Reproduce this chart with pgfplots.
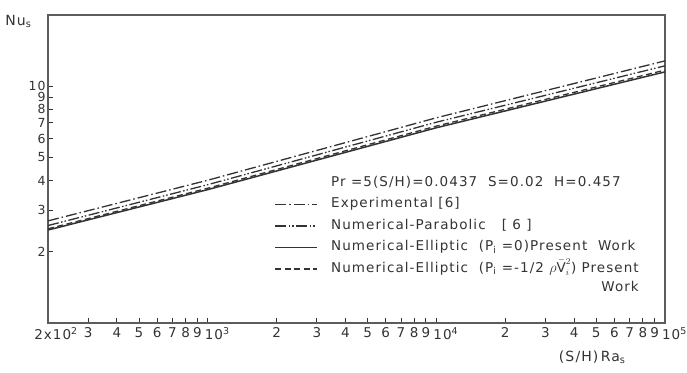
\documentclass[border=0pt]{standalone}
\usepackage{pgfplots}
\pgfplotsset{compat=1.18}
\usepackage{fontspec}
\setmainfont{DejaVu Sans}[LetterSpace=8]
\usetikzlibrary{calc}
\definecolor{ink}{gray}{0.2}
\newcommand{\dec}[1]{\makebox[0pt][l]{\hspace{-3pt}10\textsuperscript{#1}}}
\begin{document}
\begin{tikzpicture}
\begin{axis}[
  name=ax,
  scale only axis,
  width=617pt, height=308pt,
  xmode=log, ymode=log,
  xmin=200, xmax=100000,
  ymin=1, ymax=20,
  axis line style={ink!80, line width=1.4pt},
  tick style={ink, line width=0.9pt},
  major tick length=5pt,
  tick align=inside,
  tick pos=left,
  xminorticks=false, yminorticks=false,
  xtick={200,300,400,500,600,700,800,900,1000,2000,3000,4000,5000,6000,7000,8000,9000,10000,20000,30000,40000,50000,60000,70000,80000,90000,100000},
  xticklabels={\hspace{16pt}2x10\textsuperscript{2},3,4,5,6,7,8,9,\dec{3},2,3,4,5,6,7,8,9,\dec{4},2,3,4,5,6,7,8,9,\dec{5}},
  ytick={2,3,4,5,6,7,8,9,10},
  yticklabels={2,3,4,5,6,7,8,9,10},
  tick label style={font=\fontsize{13.5}{14}\selectfont, text=ink},
  yticklabel style={font=\fontsize{12.5}{13}\selectfont, xshift=1pt},
  xticklabel style={yshift=-1pt},
  every axis x label/.style={at={(rel axis cs:0.882,0)}, anchor=north, yshift=-24pt},
  every axis y label/.style={at={(rel axis cs:0,1)}, anchor=north east, xshift=-13pt, yshift=3pt},
  xlabel={(S/H)\,Ra\textsubscript{s}},
  ylabel={Nu\textsubscript{s}},
  label style={font=\fontsize{14}{15}\selectfont, text=ink},
  legend style={at={(rel axis cs:0.367,0.48)}, anchor=north west, draw=none, fill=none,
    font=\fontsize{13.5}{16}\selectfont, text=ink, inner sep=0pt, row sep=6pt, column sep=12pt,
    nodes={inner sep=1pt, text height=10pt, text depth=3.5pt}},
  legend cell align=left,
  legend image code/.code={\draw[#1] (0pt,0pt) -- (42pt,0pt);},
]
\addlegendimage{empty legend}
\addlegendentry{Pr =5(S/H)=0.0437\ \ S=0.02\ \ H=0.457}
\addplot[ink, line width=1.3pt, dash pattern=on 11pt off 3pt on 1.5pt off 3pt]
  coordinates {(200,2.70) (1000,4.01) (10000,7.36) (100000,12.8)};
\addlegendentry{Experimental [6]}
\addplot[ink, line width=1.3pt, dash pattern=on 11pt off 2.5pt on 1.5pt off 2pt on 1.5pt off 2.5pt]
  coordinates {(200,2.58) (1000,3.84) (10000,7.05) (100000,12.2)};
\addlegendentry{Numerical-Parabolic\ \ \ [ 6 ]}
\addplot[ink, line width=1.5pt]
  coordinates {(200,2.47) (1000,3.66) (10000,6.68) (100000,11.5)};
\addlegendentry{Numerical-Elliptic\ \ (P\textsubscript{i} =0)Present\ \ Work}
\addplot[ink, line width=1.3pt, dash pattern=on 6pt off 3.5pt]
  coordinates {(200,2.50) (1000,3.71) (10000,6.79) (100000,11.7)};
\addlegendentry{\begin{tabular}[t]{@{}r@{}}Numerical-Elliptic\ \ (P\textsubscript{i} =-1/2 $\rho\bar{\mathrm{V}}_i^{2}$) Present\\[3pt]Work\end{tabular}}
\end{axis}
\pgfresetboundingbox
\path ($(ax.south west)+(-48pt,-49pt)$) rectangle ($(ax.north east)+(22pt,15pt)$);
\end{tikzpicture}
\end{document}
